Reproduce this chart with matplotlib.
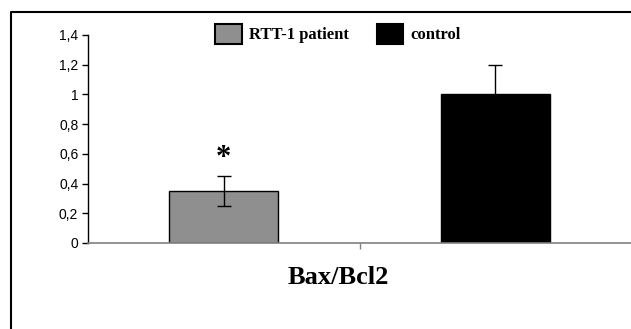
import matplotlib.pyplot as plt
from matplotlib.lines import Line2D

# Bax/Bcl2 ratio, patient vs control
groups = ["RTT-1 patient", "control"]
ratios = [0.35, 1.0]
errors = [0.10, 0.20]
bar_colors = ["#8f8f8f", "#000000"]
yticks = [0, 0.2, 0.4, 0.6, 0.8, 1.0, 1.2, 1.4]
ytick_labels = ["0", "0,2", "0,4", "0,6", "0,8", "1", "1,2", "1,4"]
star_level = 0.57

W, H = 631, 329
fig = plt.figure(figsize=(W / 100, H / 100), dpi=100)
ax = fig.add_axes([88 / W, 1 - 243 / H, 1 - 88 / W, (243 - 35) / H])

xpos = [0, 1]
ax.bar(xpos, ratios, width=0.4, color=bar_colors, edgecolor="black",
       linewidth=1, zorder=2)
ax.errorbar(xpos, ratios, yerr=errors, fmt="none", ecolor="black",
            elinewidth=1, capsize=5, capthick=1, zorder=3)

ax.text(0, star_level, "*", ha="center", va="center", fontsize=22,
        fontweight="bold", family="Liberation Serif")

ax.set_xlim(-0.5, 1.5)
ax.set_ylim(0, 1.4)
ax.set_yticks(yticks)
ax.set_yticklabels(ytick_labels, family="Liberation Sans", fontsize=10)
ax.set_xticks([0.5])
ax.set_xticklabels([""])
ax.tick_params(axis="y", direction="out", length=4, width=1, pad=3)
ax.tick_params(axis="x", direction="out", length=4, width=1, color="#808080")

for side in ("top", "right"):
    ax.spines[side].set_visible(False)
ax.spines["left"].set_linewidth(1)
ax.spines["bottom"].set_color("#808080")
ax.spines["bottom"].set_linewidth(1.2)

ax.text(338 / W, 1 - 278 / H, "Bax/Bcl2", transform=fig.transFigure,
        ha="center", va="center", fontsize=19, fontweight="bold",
        family="Liberation Serif")

handles = [plt.Rectangle((0, 0), 1, 1, facecolor=c, edgecolor="black", linewidth=1.5)
           for c in bar_colors]
fig.legend(handles, groups, loc="upper left", bbox_to_anchor=(215 / W, 1 - 24 / H),
           ncol=2, frameon=False, borderpad=0, borderaxespad=0,
           handlelength=1.6, handleheight=1.45, handletextpad=0.45,
           columnspacing=1.65,
           prop={"family": "Liberation Serif", "weight": "bold", "size": 12})

# outer frame (left and top edges)
fig.add_artist(Line2D([11 / W, 11 / W, 1], [0, 1 - 12 / H, 1 - 12 / H],
                      transform=fig.transFigure, color="black", linewidth=1.5))

fig.savefig("out.png", dpi=100)
